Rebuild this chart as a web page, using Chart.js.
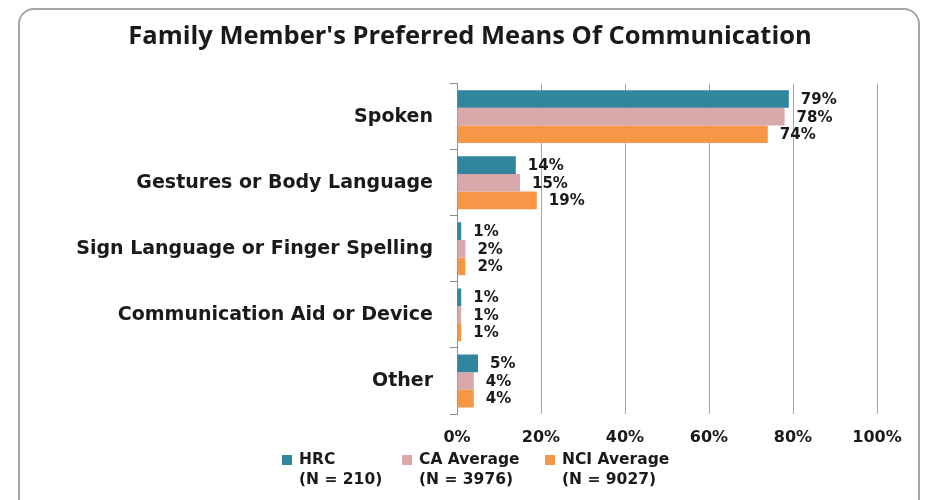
<!DOCTYPE html>
<html>
<head>
<meta charset="utf-8">
<script src="https://cdn.jsdelivr.net/npm/chart.js@4.4.1/dist/chart.umd.min.js"></script>
<style>
  html, body { margin: 0; padding: 0; background: #fff; overflow: hidden; }
  #wrap { position: relative; width: 931px; height: 500px; }
  #frame { position: absolute; left: 18px; top: 8px; width: 902px; height: 520px;
    border: 2px solid #a6a6a6; border-radius: 16px; box-sizing: border-box; }
  #chart { position: absolute; left: 0; top: 0; }
  #legend { position: absolute; left: 0; top: 449px; width: 931px; height: 50px;
    font: bold 15.5px "DejaVu Sans", Verdana, sans-serif; color: #1a1a1a; }
  .lg-item { position: absolute; top: 0; }
  .lg-box { position: absolute; left: 0; top: 6px; width: 10px; height: 10px; }
  .lg-text { position: absolute; left: 17px; top: 0; white-space: nowrap; line-height: 20px; }
</style>
</head>
<body>
<div id="wrap">
  <div id="frame"></div>
  <canvas id="chart" width="931" height="500"></canvas>
  <div id="legend"></div>
</div>
<script>
// ---- Data ----
const categories = ["Spoken", "Gestures or Body Language", "Sign Language or Finger Spelling",
  "Communication Aid or Device", "Other"];
const seriesNames = ["HRC", "CA Average", "NCI Average"];
const seriesN = ["(N = 210)", "(N = 3976)", "(N = 9027)"];
const hrc = [79, 14, 1, 1, 5];
const caAvg = [78, 15, 2, 1, 4];
const nciAvg = [74, 19, 2, 1, 4];
const xTicks = [0, 20, 40, 60, 80, 100];

const colors = ["#31859c", "#d9a8aa", "#f79646"];
const legendX = [282, 402, 545];
const FONT = "'DejaVu Sans', Verdana, sans-serif";

// ---- Value labels to the right of each bar ----
const barLabels = {
  id: "barLabels",
  afterDatasetsDraw(c) {
    const ctx = c.ctx;
    ctx.save();
    ctx.font = "bold 15px " + FONT;
    ctx.fillStyle = "#1a1a1a";
    ctx.textAlign = "left";
    ctx.textBaseline = "middle";
    c.data.datasets.forEach((ds, i) => {
      c.getDatasetMeta(i).data.forEach((bar, j) => {
        ctx.fillText(ds.data[j] + "%", bar.x + 12, bar.y + 1);
      });
    });
    ctx.restore();
  },
};

const values = [hrc, caAvg, nciAvg];
new Chart(document.getElementById("chart").getContext("2d"), {
  type: "bar",
  data: {
    labels: categories,
    datasets: values.map((v, i) => ({
      label: seriesNames[i], data: v, backgroundColor: colors[i],
      borderWidth: 0, categoryPercentage: 0.8, barPercentage: 1.0,
    })),
  },
  options: {
    indexAxis: "y", responsive: false, animation: false,
    layout: { padding: { left: 63, right: 54, top: 0, bottom: 0 } },
    scales: {
      x: {
        min: 0, max: 100,
        afterBuildTicks: (s) => { s.ticks = xTicks.map((v) => ({ value: v })); },
        afterFit: (s) => { s.height = 86; },
        grid: { color: "#a6a6a6", lineWidth: 1, drawTicks: false },
        border: { display: false },
        ticks: { padding: 14, color: "#1a1a1a", callback: (v) => v + "%",
          font: { family: FONT, weight: "bold", size: 16 } },
      },
      y: {
        afterFit: (s) => { s.width = 394; },
        grid: { drawOnChartArea: false, tickLength: 7, color: "#8c8c8c" },
        border: { display: true, color: "#8c8c8c", width: 1 },
        ticks: { padding: 17, color: "#1a1a1a",
          font: { family: FONT, weight: "bold", size: 19 } },
      },
    },
    plugins: {
      legend: { display: false },
      tooltip: { enabled: false },
      title: {
        display: true, text: "Family Member's Preferred Means Of Communication",
        color: "#1a1a1a", padding: { top: 21, bottom: 32 },
        font: { family: "'Open Sans', sans-serif", weight: "bold", size: 25.5 },
      },
    },
  },
  plugins: [barLabels],
});

// ---- Legend (two-line labels) ----
const lg = document.getElementById("legend");
seriesNames.forEach((name, i) => {
  const item = document.createElement("div");
  item.className = "lg-item";
  item.style.left = legendX[i] + "px";
  item.innerHTML = `<span class="lg-box" style="background:${colors[i]}"></span>
    <span class="lg-text">${name}<br>${seriesN[i]}</span>`;
  lg.appendChild(item);
});
</script>
</body>
</html>
